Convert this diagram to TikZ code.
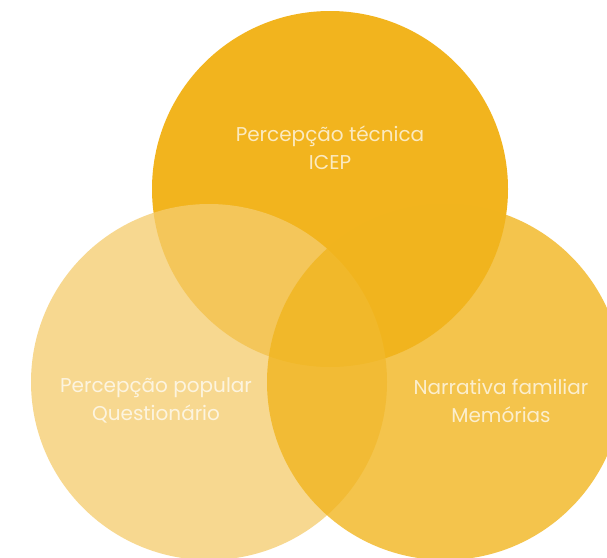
\documentclass[tikz,border=0pt]{standalone}
\usepackage{fontspec}
\setmainfont{Poppins}
\usepackage{tikz}
\definecolor{tecfill}{RGB}{242,180,30}
\definecolor{popfill}{RGB}{245,204,109}
\definecolor{narfill}{RGB}{241,181,31}

\begin{document}
\begin{tikzpicture}[x=1pt,y=1pt,
    bubble/.style={fill opacity=0.76},
    label/.style={text=white, text opacity=0.72, align=center,
      font=\fontsize{20}{28}\selectfont}]
       \useasboundingbox (0,0) rectangle (607,-557);
       \clip (0,0) rectangle (607,-557);
       % three circles
       \fill[tecfill] (330,-189) circle (178);
       \fill[popfill, bubble] (209,-382) circle (178);
       \fill[narfill, bubble, fill opacity=0.8] (445,-382) circle (178);
       % texts
       \node[label] (tecnica) at (330,-148) {Percepção técnica\\ICEP};
       \node[label] (popular) at (156,-400) {Percepção popular\\Questionário};
       \node[label] (narrativa) at (501,-401) {Narrativa familiar\\Memórias};
\end{tikzpicture}
\end{document}
